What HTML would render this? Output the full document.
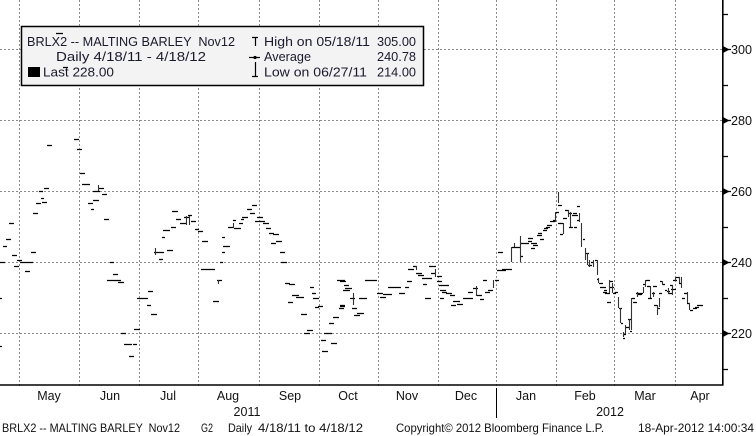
<!DOCTYPE html>
<html><head><meta charset="utf-8"><style>
html,body{margin:0;padding:0;background:#fff;}
svg{display:block;}
text{font-family:"Liberation Sans","DejaVu Sans",sans-serif;white-space:pre;}
</style></head><body>
<svg width="756" height="436" viewBox="0 0 756 436" xmlns="http://www.w3.org/2000/svg">
<rect x="0" y="0" width="756" height="436" fill="#fff"/>
<!-- grid -->
<g stroke="#8a8a8a" stroke-width="1" stroke-dasharray="2,2" fill="none">
<path d="M0 49.5H722M0 120.5H722M0 191.5H722M0 262.5H722M0 333.5H722"/>
<path d="M19.5 0V388M79.5 0V388M139.5 0V388M198.5 0V388M259.5 0V388M319.5 0V388M378.5 0V388M438.5 0V388M496.5 0V388M556.5 0V388M614.5 0V388M675.5 0V388"/>
</g>
<!-- data horizontals -->
<path fill="none" stroke="#000" stroke-width="1.2" d="M0 262.5H5M0 298.5H2M0 346.5H2M3 246.5H7M6 239.5H11M9 223.5H14M12 255.5H17M14 266.5H19M17 260.5H22M20 262.5H33M25 271.5H30M31 252.5H36M33 213.5H38M36 203.5H41M39 191.5H43M41 198.5H44M42 202.5H47M44 188.5H49M47 145.5H52M74 139.5H79M77 149.5H82M80 173.5H85M82 184.5H90M93 191.5H100M98 188.5H104M102 194.5H107M88 203.5H93M93 200.5H99M91 209.5H94M104 219.5H109M110 262.5H114M113 274.5H118M107 280.5H121M118 282.5H124M121 333.5H126M124 344.5H132M129 356.5H134M133 344.5H137M134 329.5H140M137 298.5H148M147 305.5H151M148 291.5H153M151 314.5H157M154 252.5H164M159 259.5H163M162 237.5H165M163 230.5H170M167 250.5H173M171 227.5H176M172 211.5H178M176 219.5H180
M176 219.5H181M180 223.5H186M184 217.5H190M188 215.5H192M191 221.5H196M195 229.5H199M198 231.5H203M202 241.5H208M201 269.5H215M217 280.5H222M213 301.5H219M220 262.5H223M222 252.5H225M223 246.5H230M222 237.5H225M228 227.5H234M233 220.5H236M234 228.5H241M239 223.5H243M241 219.5H244M242 217.5H248M247 209.5H252M250 213.5H255M252 205.5H257M255 221.5H261M257 217.5H263M259 221.5H265M263 223.5H269M266 228.5H271M269 233.5H274M273 234.5H279M271 243.5H276M276 241.5H282M280 252.5H285M281 262.5H287M285 283.5H290M289 284.5H295M288 302.5H293M292 295.5H299M296 297.5H304M301 314.5H307M307 330.5H313M304 333.5H310M310 287.5H314M312 293.5H316M313 298.5H319M315 307.5H319M318 306.5H323M321 340.5H326M322 351.5H328M324 333.5H332M331 343.5H337M329 323.5H334M333 317.5H339M339 308.5H344M340 305.5H345M337 280.5H345M343 290.5H350M344 285.5H349
M340 281.5H346M345 288.5H352M340 306.5H345M350 298.5H355M352 308.5H357M354 315.5H360M357 313.5H364M359 298.5H367M365 280.5H377M377 293.5H383M380 297.5H386M383 294.5H392M388 287.5H401M399 293.5H405M405 287.5H409M407 281.5H412M408 269.5H414M413 266.5H417M416 273.5H422M418 275.5H424M422 278.5H427M423 284.5H427M425 298.5H431M427 278.5H432M429 266.5H436M431 273.5H436M437 276.5H442M437 281.5H442M439 285.5H444M444 285.5H449M440 290.5H446M442 292.5H447M446 293.5H452M450 295.5H455M440 298.5H444M453 301.5H460M451 305.5H456M457 304.5H463M463 298.5H473M468 292.5H473M473 288.5H478M477 295.5H482M480 299.5H484M483 280.5H487M485 292.5H490M488 290.5H493M495 280.5H499M497 270.5H503M502 269.5H512M498 252.5H503
M500 270.5H506M512 247.5H520M521 256.5H523M521 243.5H527M523 243.5H529M528 238.5H533M528 241.5H532M531 243.5H537M531 248.5H535M533 245.5H538M537 235.5H542M540 239.5H544M538 233.5H542M543 230.5H547M544 228.5H548M546 227.5H550M547 225.5H552M550 221.5H555M553 220.5H556M556 212.5H559M558 205.5H562M558 223.5H563M560 234.5H563M563 218.5H567M565 210.5H569M568 213.5H572M569 227.5H573M572 215.5H575M573 213.5H577M574 227.5H577M575 215.5H578M577 206.5H580M577 220.5H580M583 239.5H585M586 253.5H589M588 265.5H592M591 262.5H594M595 260.5H597M597 279.5H599M599 283.5H603M602 287.5H606M604 290.5H607M607 293.5H610M608 302.5H610
M600 283.5H603M600 287.5H605M603 292.5H607M605 293.5H608M607 302.5H611M609 281.5H613M610 287.5H614M613 293.5H616M615 292.5H618M619 308.5H622M621 323.5H623M623 338.5H625M623 334.5H626M625 327.5H629M628 319.5H631M630 331.5H632M632 298.5H635M633 302.5H637M636 293.5H638M638 293.5H643M638 294.5H642M643 284.5H646M646 280.5H650M647 286.5H650M648 298.5H652M652 293.5H655M653 286.5H657M654 305.5H657M657 308.5H660M659 293.5H662M660 281.5H662M662 284.5H665M665 290.5H667M667 291.5H670M668 293.5H672M670 285.5H673M671 289.5H676M673 280.5H677M676 277.5H680M679 283.5H681M682 298.5H685M684 293.5H687M687 303.5H690M690 310.5H693M693 308.5H697M695 307.5H699M697 305.5H703"/>
<!-- data verticals -->
<path fill="none" stroke="#333" stroke-width="1.1" d="M98.5 185V191M155.5 248V255M186.5 216V225M189.5 216V225M233.5 223V228M218.5 280V284M353.5 293V305M435.5 269V277M476.5 286V296M493.5 280V288M416.5 266V270M511.5 247V262M514.5 243V247M520.5 236V262M555.5 212V222M558.5 192V203M563.5 223V234M568.5 210V217M570.5 212V227M579.5 213V222M581.5 223V247M585.5 248V260M587.5 253V265M589.5 260V267M593.5 260V267M597.5 260V275M598.5 278V283M609.5 280V293M612.5 283V293M618.5 297V308M620.5 308V323M623.5 332V337M625.5 325V334M629.5 319V330M631.5 298V330M637.5 292V297M643.5 287V293M645.5 280V287M650.5 286V298M653.5 292V297M657.5 305V315M659.5 298V307M662.5 281V285M668.5 288V294M672.5 285V295M675.5 277V281M679.5 277V283M681.5 277V288M687.5 292V303M689.5 303V310"/>
<!-- axes -->
<path d="M0 385H723.5M722.8 0V385.5" stroke="#000" stroke-width="1.6" fill="none"/>
<path d="M496.5 388V418" stroke="#000" stroke-width="1" fill="none"/>
<g stroke="#000" stroke-width="1.2" fill="none">
<path d="M723 14.5H728M723 85.5H728M723 156.5H728M723 227.5H728M723 298.5H728M723 369.5H728"/>
<path d="M723 49.5H731M723 120.5H731M723 191.5H731M723 262.5H731M723 333.5H731"/>
</g>
<g fill="#000">
<polygon points="723,46 723,53 729.5,49.5"/>
<polygon points="723,117 723,124 729.5,120.5"/>
<polygon points="723,188 723,195 729.5,191.5"/>
<polygon points="723,259 723,266 729.5,262.5"/>
<polygon points="723,330 723,337 729.5,333.5"/>
</g>
<g font-size="12.5" fill="#111">
<text x="731" y="54" textLength="21" lengthAdjust="spacingAndGlyphs">300</text>
<text x="731" y="125" textLength="21" lengthAdjust="spacingAndGlyphs">280</text>
<text x="731" y="196" textLength="21" lengthAdjust="spacingAndGlyphs">260</text>
<text x="731" y="267" textLength="21" lengthAdjust="spacingAndGlyphs">240</text>
<text x="731" y="338" textLength="21" lengthAdjust="spacingAndGlyphs">220</text>
</g>
<!-- month labels -->
<g font-size="12.5" fill="#111" text-anchor="middle">
<text x="49" y="400">May</text>
<text x="110" y="400">Jun</text>
<text x="168" y="400">Jul</text>
<text x="228" y="400">Aug</text>
<text x="290" y="400">Sep</text>
<text x="348" y="400">Oct</text>
<text x="407" y="400">Nov</text>
<text x="466" y="400">Dec</text>
<text x="526" y="400">Jan</text>
<text x="585" y="400">Feb</text>
<text x="645" y="400">Mar</text>
<text x="700" y="400">Apr</text>
<text x="247" y="416">2011</text>
<text x="610" y="416">2012</text>
</g>
<!-- footer -->
<g font-size="12" fill="#111">
<text x="2" y="432" textLength="178" lengthAdjust="spacingAndGlyphs">BRLX2 -- MALTING BARLEY  Nov12</text>
<text x="201" y="432" textLength="12" lengthAdjust="spacingAndGlyphs">G2</text>
<text x="228" y="432" textLength="24" lengthAdjust="spacingAndGlyphs">Daily</text>
<text x="258" y="432" textLength="105" lengthAdjust="spacingAndGlyphs">4/18/11 to 4/18/12</text>
<text x="396" y="432" textLength="208" lengthAdjust="spacingAndGlyphs">Copyright© 2012 Bloomberg Finance L.P.</text>
<text x="638" y="432" textLength="116" lengthAdjust="spacingAndGlyphs">18-Apr-2012 14:00:34</text>
</g>
<!-- legend -->
<rect x="21.5" y="26.5" width="402" height="59" fill="#f3f3f3" stroke="#000" stroke-width="1.5"/>
<g font-size="12.5" fill="#1a1a2e">
<text x="27" y="46" textLength="208" lengthAdjust="spacingAndGlyphs">BRLX2 -- MALTING BARLEY  Nov12</text>
<text x="56" y="61" textLength="150" lengthAdjust="spacingAndGlyphs">Daily 4/18/11 - 4/18/12</text>
<text x="43" y="76.5" textLength="71" lengthAdjust="spacingAndGlyphs">Last 228.00</text>
<text x="264" y="46" textLength="106" lengthAdjust="spacingAndGlyphs">High on 05/18/11</text>
<text x="377" y="46" textLength="39" lengthAdjust="spacingAndGlyphs">305.00</text>
<text x="264" y="61" textLength="47" lengthAdjust="spacingAndGlyphs">Average</text>
<text x="377" y="61" textLength="39" lengthAdjust="spacingAndGlyphs">240.78</text>
<text x="264" y="76.5" textLength="103" lengthAdjust="spacingAndGlyphs">Low on 06/27/11</text>
<text x="377" y="76.5" textLength="39" lengthAdjust="spacingAndGlyphs">214.00</text>
</g>
<rect x="28" y="67" width="12" height="10" fill="#000"/>
<g stroke="#000" stroke-width="1.2" fill="none">
<path d="M252 37.5H258M255.5 37V46"/>
<path d="M249 57.5H260"/>
<path d="M255.5 62V76M252 76.5H258"/>
<path d="M56 33.5H63M63 67.5H68"/>
</g>
<circle cx="255" cy="57.5" r="1.6" fill="#000"/>
</svg>
</body></html>
